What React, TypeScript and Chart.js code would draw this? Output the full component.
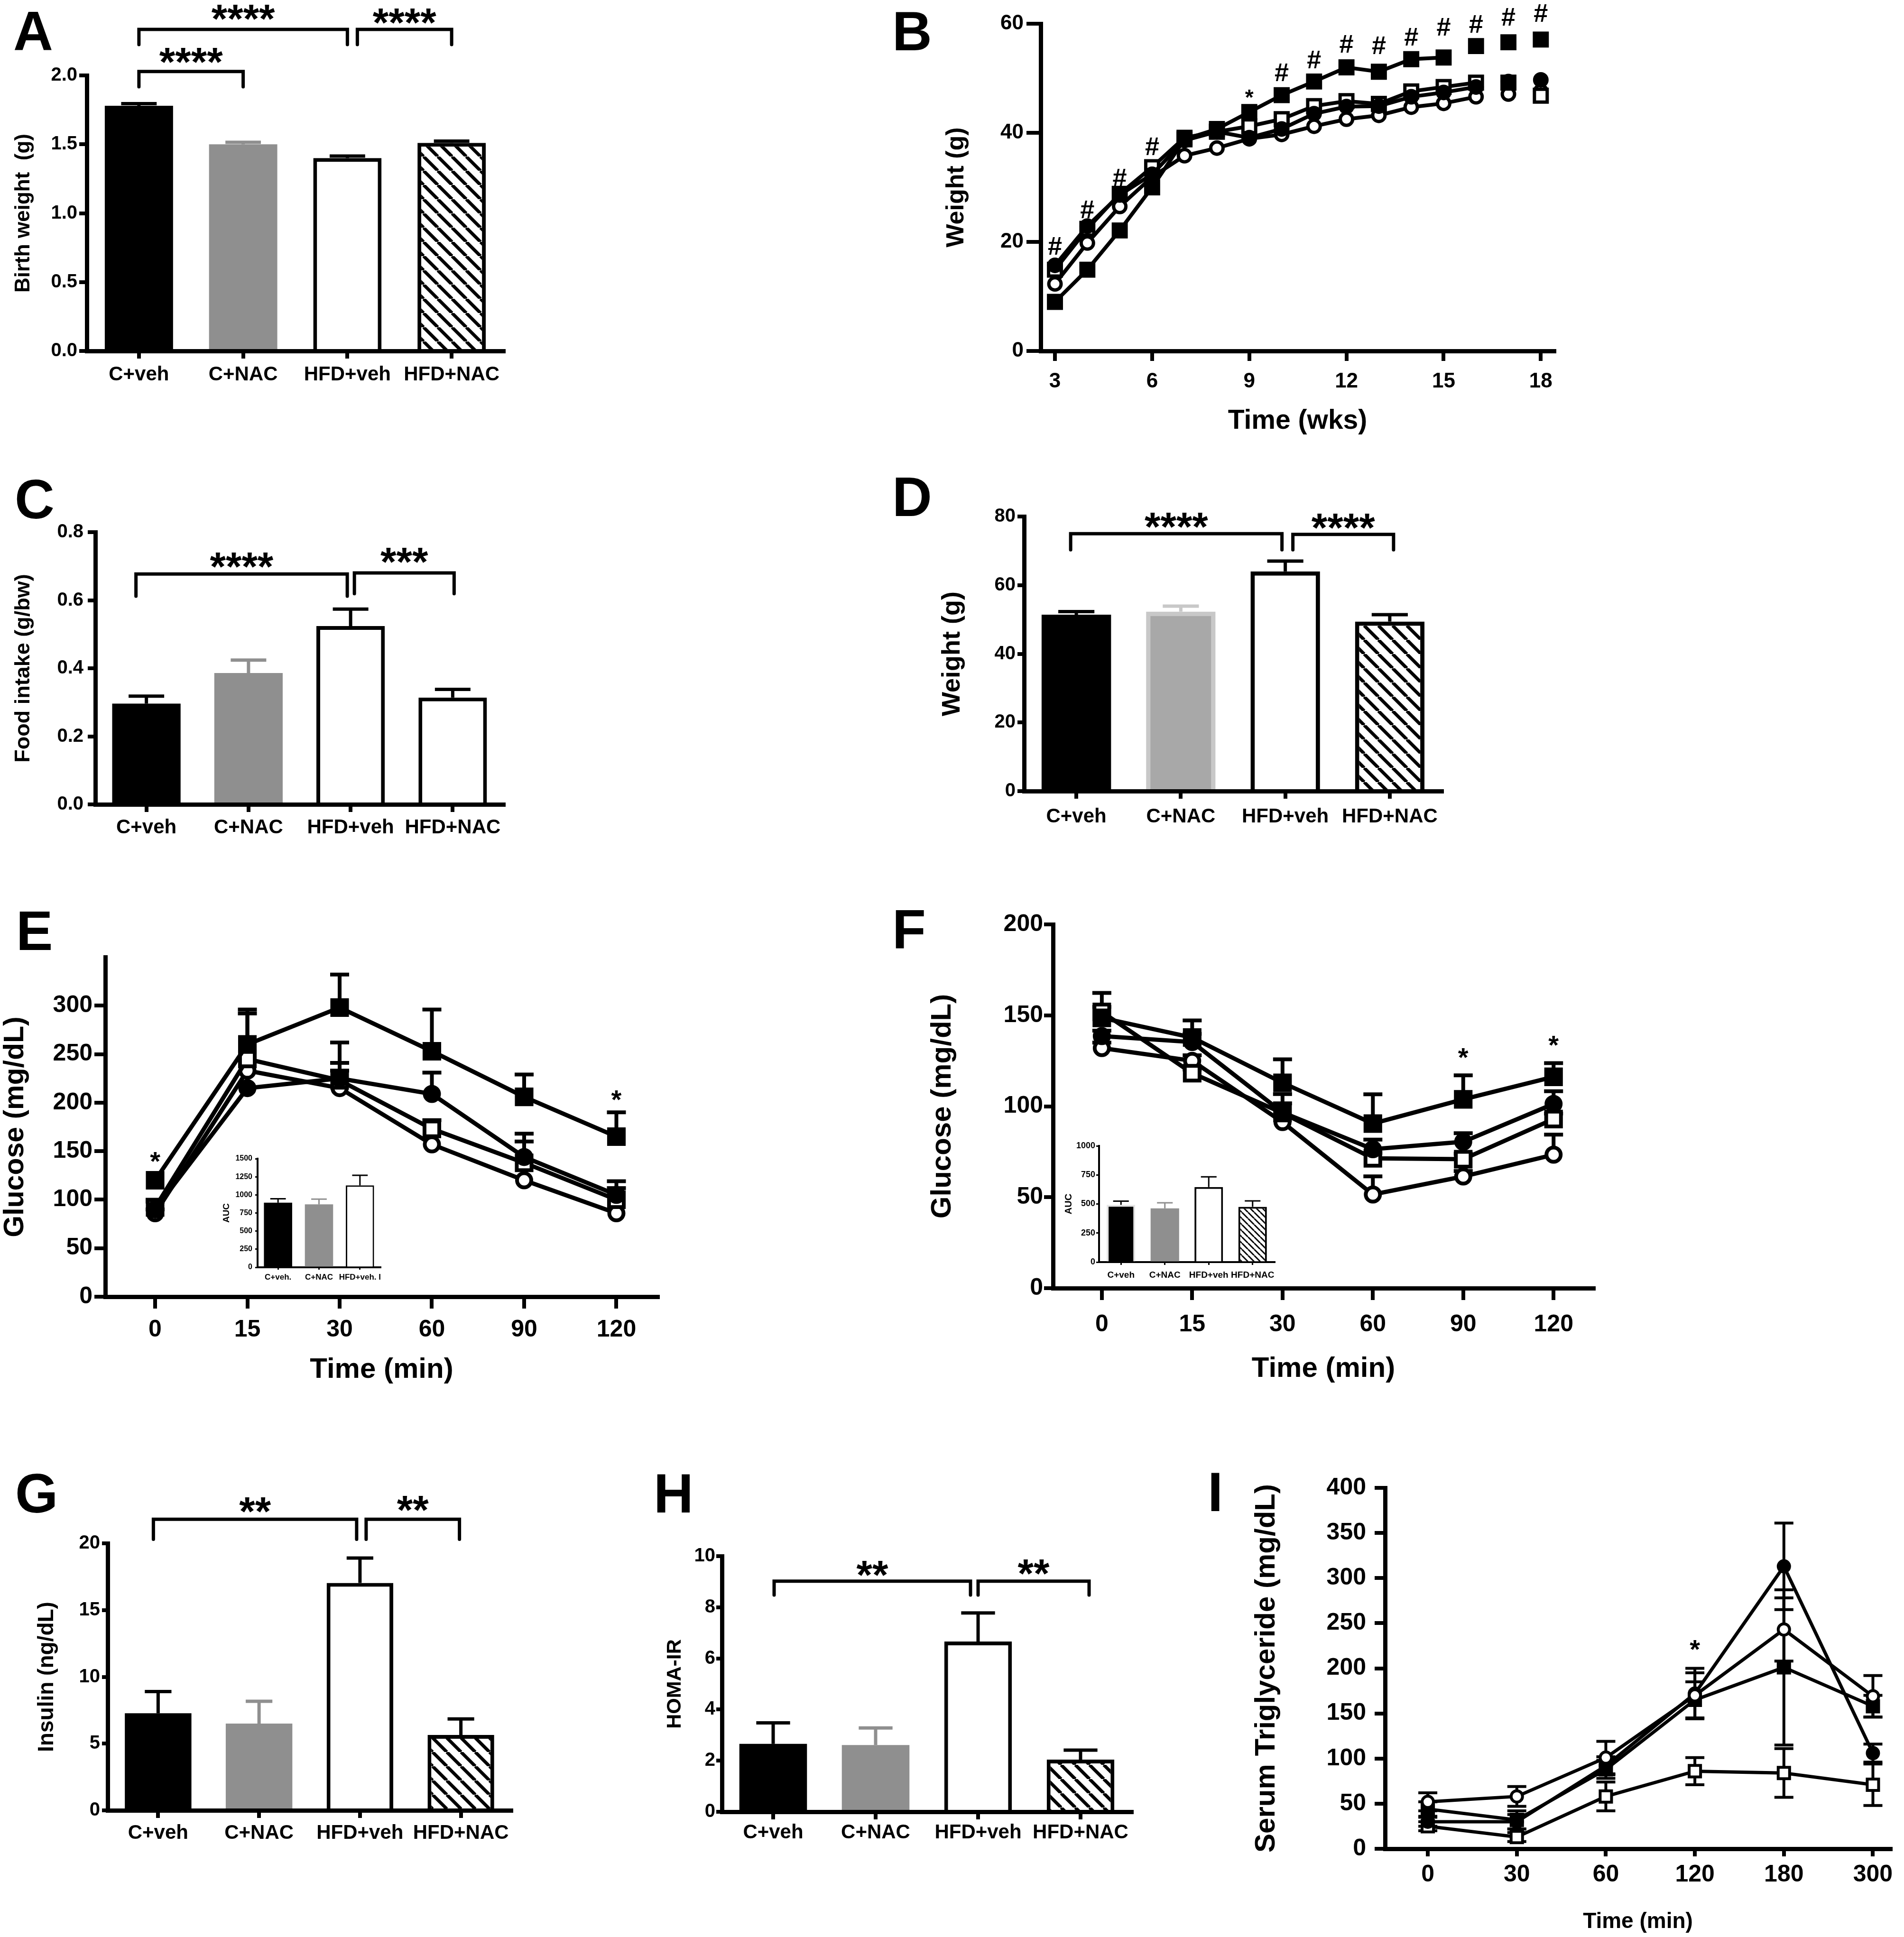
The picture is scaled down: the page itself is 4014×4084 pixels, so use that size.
import React, { useEffect, useRef } from 'react';
import { Chart, registerables } from 'chart.js';

Chart.register(...registerables);

const FONT = "'Liberation Sans', Arial, Helvetica, sans-serif";
Chart.defaults.font.family = FONT;
Chart.defaults.color = '#000';

// ---------------- data ----------------
const groups = ['C+veh', 'C+NAC', 'HFD+veh', 'HFD+NAC'];

// A: birth weight (g)
const birthWeight = [1.78, 1.5, 1.4, 1.51];
const birthWeightSem = [0.015, 0.015, 0.015, 0.013];
// C: food intake (g/bw)
const foodIntake = [0.296, 0.386, 0.524, 0.314];
const foodIntakeSem = [0.022, 0.038, 0.05, 0.024];
// D: weight (g)
const bodyWeight = [51.4, 52.3, 64.0, 49.4];
const bodyWeightSem = [0.9, 1.6, 3.0, 2.0];
// G: insulin (ng/dL)
const insulin = [7.27, 6.5, 17.03, 5.65];
const insulinSem = [1.63, 1.67, 1.87, 1.2];
// H: HOMA-IR
const homaIR = [2.66, 2.61, 6.66, 2.04];
const homaIRSem = [0.82, 0.67, 1.12, 0.37];

// B: weight over time (wks)
const weeks = [3, 4, 5, 6, 7, 8, 9, 10, 11, 12, 13, 14, 15, 16, 17, 18];
const growthCVeh = [15.7, 22.9, 28.6, 32.4, 38.6, 40.2, 39.1, 40.7, 43.5, 44.8, 44.9, 46.6, 47.4, 48.4, 49.4, 49.7];
const growthCNac = [12.3, 19.8, 26.5, 31.9, 35.8, 37.2, 38.9, 39.7, 41.2, 42.5, 43.2, 44.7, 45.4, 46.6, 47.1, 47.6];
const growthHfdVeh = [9.0, 14.9, 22.1, 30.0, 38.8, 40.7, 43.8, 46.9, 49.4, 52.0, 51.2, 53.5, 53.8, 55.9, 56.6, 57.1];
const growthHfdNac = [14.9, 22.4, 28.8, 33.7, 39.1, 40.2, 41.2, 42.5, 44.9, 45.8, 45.3, 47.6, 48.4, 49.2, 49.2, 46.8];
const growthHashWeeks = [3, 4, 5, 6, 10, 11, 12, 13, 14, 15, 16, 17, 18];
const growthHashY = [19.3, 26.0, 31.9, 37.6, 51.2, 53.5, 56.4, 56.1, 57.7, 59.5, 60.0, 61.3, 62.0];

// E: GTT glucose (mg/dL)
const gttTimes = ['0', '15', '30', '60', '90', '120'];
const gttCVeh = [90, 215, 225, 209, 144, 105];
const gttCVehSem = [10, 77, 37, 22, 24, 14];
const gttCNac = [86, 233, 215, 157, 120, 86];
const gttCNacSem = [4, 0, 26, 0, 0, 0];
const gttHfdVeh = [120, 260, 298, 253, 206, 165];
const gttHfdVehSem = [0, 36, 34, 43, 23, 25];
const gttHfdNac = [92, 245, 223, 173, 138, 100];
const gttHfdNacSem = [6, 0, 10, 9, 22, 12];
// E inset: AUC
const gttAucGroups = ['C+veh.', 'C+NAC', 'HFD+veh. I'];
const gttAuc = [892, 870, 1132];
const gttAucSem = [55, 71, 138];

// F: ITT glucose (mg/dL)
const ittTimes = ['0', '15', '30', '60', '90', '120'];
const ittCVeh = [138.6, 135.3, 96.6, 76.4, 80.5, 101.3];
const ittCVehSem = [3, 4.5, 5, 5.3, 4.7, 7];
const ittCNac = [132, 125, 91.3, 51.5, 61.4, 73.4];
const ittCNacSem = [3, 3, 3, 10, 3, 11];
const ittHfdVeh = [148.6, 137.8, 112.9, 90.5, 103.8, 116.2];
const ittHfdVehSem = [6, 9.4, 12.9, 16.1, 13.2, 7.5];
const ittHfdNac = [151.9, 118.2, 96.3, 71.4, 70.9, 93];
const ittHfdNacSem = [10.4, 2, 10.4, 3, 3, 3];
// F inset: AUC
const ittAuc = [493, 462, 646, 476];
const ittAucSem = [32, 48, 88, 51];

// I: serum triglyceride (mg/dL)
const tgTimes = ['0', '30', '60', '120', '180', '300'];
const tgCNac = [52, 58, 101, 170, 243, 169];
const tgCNacSem = [10, 11, 18, 25, 35, 23];
const tgHfdVeh = [44, 32, 88, 165, 201, 158];
const tgHfdVehSem = [8, 10, 10, 20, 86, 12];
const tgCVeh = [30, 30, 92, 172, 313, 106];
const tgCVehSem = [5, 8, 10, 28, 48, 10];
const tgHfdNac = [25, 13, 58, 86, 84, 71];
const tgHfdNacSem = [5, 5, 16, 15, 27, 23];

// ---------------- helpers ----------------
const GREY = '#8f8f8f';

function hatch(tile: number, lw: number) {
  const c = document.createElement('canvas');
  c.width = tile;
  c.height = tile;
  const g = c.getContext('2d')!;
  g.fillStyle = '#fff';
  g.fillRect(0, 0, tile, tile);
  g.strokeStyle = '#000';
  g.lineWidth = lw;
  g.beginPath();
  for (const o of [-tile, 0, tile]) {
    g.moveTo(o, 0);
    g.lineTo(o + tile, tile);
  }
  g.stroke();
  return g.createPattern(c, 'repeat');
}

function drawText(ctx: any, text: string, x: number, yc: number, size: number, k: number) {
  ctx.font = `bold ${size}px ${FONT}`;
  ctx.textAlign = 'center';
  ctx.textBaseline = 'alphabetic';
  ctx.fillStyle = '#000';
  ctx.fillText(text, x, yc + k * size);
}

function drawErr(chart: any, o: any) {
  const ctx = chart.ctx;
  const ys = chart.scales.y;
  (o.errs || []).forEach((arr: number[], di: number) => {
    if (!arr) return;
    const meta = chart.getDatasetMeta(di);
    const ds = chart.data.datasets[di];
    meta.data.forEach((el: any, j: number) => {
      const e = arr[j];
      if (!e) return;
      const raw = ds.data[j];
      const v = typeof raw === 'number' ? raw : raw.y;
      const x = el.x;
      const y0 = o.errMode === 'bar' ? el.y : ys.getPixelForValue(v);
      const yTop = ys.getPixelForValue(v + e);
      const yBot = o.both ? ys.getPixelForValue(v - e) : y0;
      const cw = o.errMode === 'bar' ? el.width * o.capFrac : o.capW;
      ctx.save();
      ctx.strokeStyle = (o.errColors && o.errColors[di] && o.errColors[di][j]) || '#000';
      ctx.lineWidth = o.errLW;
      ctx.lineCap = 'butt';
      ctx.beginPath();
      ctx.moveTo(x, yBot);
      ctx.lineTo(x, yTop);
      ctx.moveTo(x - cw / 2, yTop);
      ctx.lineTo(x + cw / 2, yTop);
      if (o.both) {
        ctx.moveTo(x - cw / 2, yBot);
        ctx.lineTo(x + cw / 2, yBot);
      }
      ctx.stroke();
      ctx.restore();
    });
  });
}

function drawAnn(chart: any, o: any) {
  const ctx = chart.ctx;
  const xs = chart.scales.x;
  const ys = chart.scales.y;
  ctx.save();
  (o.brackets || []).forEach((b: any) => {
    const x1 = xs.getPixelForValue(b.a) + (b.na || 0);
    const x2 = xs.getPixelForValue(b.b) + (b.nb || 0);
    const y = ys.getPixelForValue(b.y);
    const yd = ys.getPixelForValue(b.drop);
    ctx.strokeStyle = '#000';
    ctx.lineWidth = o.bLW || 7;
    ctx.lineJoin = 'miter';
    ctx.lineCap = 'round';
    ctx.beginPath();
    ctx.moveTo(x1, yd);
    ctx.lineTo(x1, y);
    ctx.lineTo(x2, y);
    ctx.lineTo(x2, yd);
    ctx.stroke();
    drawText(ctx, b.text, (x1 + x2) / 2, ys.getPixelForValue(b.ty), o.bSize || 86, 0.56);
  });
  (o.marks || []).forEach((m: any) => {
    drawText(ctx, m.text, xs.getPixelForValue(m.x), ys.getPixelForValue(m.y), m.size, m.k);
  });
  ctx.restore();
}

const decoPlugin = {
  id: 'deco',
  beforeDatasetsDraw(chart: any, _a: any, o: any) {
    if (o && o.errMode === 'line') drawErr(chart, o);
  },
  afterDatasetsDraw(chart: any, _a: any, o: any) {
    if (o && o.errMode === 'bar') drawErr(chart, o);
  },
  afterDraw(chart: any, _a: any, o: any) {
    if (o) drawAnn(chart, o);
  },
};
Chart.register(decoPlugin as any);

interface Geo {
  L: number; T: number; R: number; B: number;
  padTop: number; padRight: number;
  yTitleCx: number; yTitleSize: number;
  xTitleCy?: number; xTitleSize?: number; xBlock?: number;
}

function frame(g: Geo) {
  const left = Math.floor(g.yTitleCx - 0.6 * g.yTitleSize);
  const top = Math.floor(g.T - g.padTop);
  const Wy = g.L - left;
  const Hx = g.xTitleCy != null ? g.xTitleCy + 0.6 * (g.xTitleSize as number) - g.B : (g.xBlock as number);
  const width = Math.ceil(g.R + g.padRight - left);
  const height = Math.ceil(g.B + Hx + 4 - top);
  const pad = { left: 0, top: g.T - top, right: width - (g.R - left), bottom: height - (g.B - top) - Hx };
  return { left, top, width, height, Wy, Hx, pad };
}

function axisCommon(p: any) {
  return {
    grid: {
      display: true, drawOnChartArea: false, drawTicks: true, offset: false,
      tickLength: p.tickLen, tickWidth: p.tickW, tickColor: '#000', lineWidth: p.tickW, color: '#000',
    },
    border: { display: true, color: '#000', width: p.bw },
    title: {
      display: !!p.title, text: p.title || '',
      font: { size: p.titleSize || 10, weight: 'bold', family: FONT }, color: '#000', padding: 0,
    },
  };
}

function yAxis(p: any) {
  return {
    type: 'linear', position: 'left', min: p.min, max: p.max,
    afterBuildTicks: (s: any) => {
      const vals: number[] = [];
      for (let v = p.min; v <= (p.tickMax ?? p.max) + 1e-9; v += p.step) vals.push(+v.toFixed(6));
      s.ticks = vals.map((value) => ({ value }));
    },
    ticks: {
      font: { size: p.tickSize, weight: 'bold', family: FONT }, color: '#000', padding: p.tickPad,
      callback: p.fmt, autoSkip: false,
    },
    ...axisCommon(p),
    afterFit: (s: any) => {
      s.width = p.W;
      s.paddingTop = 0;
      s.paddingBottom = 0;
    },
  };
}

function xCat(p: any) {
  return {
    type: 'category', position: 'bottom', offset: true,
    ticks: {
      font: { size: p.tickSize, weight: 'bold', family: FONT }, color: '#000', padding: p.tickPad,
      autoSkip: false, maxRotation: 0, minRotation: 0,
      callback: (v: number) => p.labels[v],
    },
    ...axisCommon(p),
    afterFit: (s: any) => {
      s.height = p.H;
      s.paddingLeft = 0;
      s.paddingRight = 0;
    },
  };
}

function xLin(p: any) {
  return {
    type: 'linear', position: 'bottom', min: p.min, max: p.max,
    afterBuildTicks: (s: any) => {
      s.ticks = p.tickVals.map((value: number) => ({ value }));
    },
    ticks: {
      font: { size: p.tickSize, weight: 'bold', family: FONT }, color: '#000', padding: p.tickPad,
      autoSkip: false, maxRotation: 0, minRotation: 0, callback: p.fmt,
    },
    ...axisCommon(p),
    afterFit: (s: any) => {
      s.height = p.H;
      s.paddingLeft = 0;
      s.paddingRight = 0;
    },
  };
}

function barStyles(kinds: string[], pat: any, bwHollow: number) {
  const bg: any[] = [];
  const bc: string[] = [];
  const bw: number[] = [];
  const ec: string[] = [];
  kinds.forEach((k) => {
    if (k === 'black') { bg.push('#000'); bc.push('#000'); bw.push(0); ec.push('#000'); }
    else if (k === 'blackRim') { bg.push('#000'); bc.push('#e4e4e4'); bw.push(bwHollow); ec.push('#000'); }
    else if (k === 'grey') { bg.push(GREY); bc.push(GREY); bw.push(0); ec.push(GREY); }
    else if (k === 'lightgrey') { bg.push('#a8a8a8'); bc.push('#c8c8c8'); bw.push(bwHollow); ec.push('#c8c8c8'); }
    else if (k === 'white') { bg.push('#fff'); bc.push('#000'); bw.push(bwHollow); ec.push('#000'); }
    else { bg.push(pat); bc.push('#000'); bw.push(bwHollow); ec.push('#000'); }
  });
  return { bg, bc, bw, ec };
}

const baseOpts = (pad: any) => ({
  responsive: false, animation: false, devicePixelRatio: 1, events: [],
  layout: { padding: pad },
});

function barSpec(g: Geo, o: any) {
  const f = frame(g);
  return {
    ...f,
    make: () => {
      const pat = hatch(o.hatchTile || 30, o.hatchLW || 7);
      const st = barStyles(o.kinds, pat, o.hollowBW);
      return {
        type: 'bar',
        data: {
          labels: o.labels,
          datasets: [{
            data: o.values, backgroundColor: st.bg, borderColor: st.bc, borderWidth: st.bw,
            borderSkipped: 'start', barPercentage: o.barPct, categoryPercentage: 1,
          }],
        },
        options: {
          ...baseOpts(f.pad),
          plugins: {
            legend: { display: false }, tooltip: { enabled: false },
            deco: {
              errMode: 'bar', errs: [o.errs], errColors: [st.ec], capFrac: o.capFrac, errLW: o.errLW,
              brackets: o.brackets || [], bLW: o.bLW, bSize: o.bSize, marks: [],
            },
          },
          scales: {
            x: xCat({ ...o.x, labels: o.labels, H: f.Hx }),
            y: yAxis({ ...o.y, W: f.Wy }),
          },
        },
      };
    },
  };
}

function series(xs: number[], ys: number[], kind: string, st: any, lastLinked: number) {
  const filled = kind[0] === 'f';
  const circle = kind[1] === 'c';
  return {
    data: xs.map((x, i) => ({ x, y: ys[i] })),
    borderColor: '#000', borderWidth: st.lw,
    pointStyle: circle ? 'circle' : 'rect',
    pointRadius: circle ? st.r : st.rr,
    pointBackgroundColor: filled ? '#000' : '#fff',
    pointBorderColor: '#000', pointBorderWidth: st.pbw,
    fill: false, tension: 0, clip: false,
    segment: { borderColor: (c: any) => (c.p1DataIndex > lastLinked ? 'rgba(0,0,0,0)' : '#000') },
  };
}

function lineSpec(g: Geo, o: any) {
  const f = frame(g);
  return {
    ...f,
    make: () => ({
      type: 'line',
      data: {
        datasets: o.series.map((s: any) => series(o.xs, s.ys, s.kind, o.st, s.last ?? 99)),
      },
      options: {
        ...baseOpts(f.pad),
        plugins: {
          legend: { display: false }, tooltip: { enabled: false },
          deco: {
            errMode: 'line', both: !!o.both, errs: o.series.map((s: any) => s.errs || null),
            capW: o.capW, errLW: o.errLW, brackets: [], marks: o.marks || [],
          },
        },
        scales: {
          x: xLin({ ...o.x, H: f.Hx }),
          y: yAxis({ ...o.y, W: f.Wy }),
        },
      },
    }),
  };
}

const idx6 = [0, 1, 2, 3, 4, 5];
const fmt1 = (v: number) => v.toFixed(1);
const fmt0 = (v: number) => String(Math.round(v));
const AX = { tickW: 8, bw: 9 };

// ---------------- panels ----------------
const panelA = barSpec(
  { L: 183, T: 159, R: 1062, B: 740, padTop: 159, padRight: 16, yTitleCx: 50, yTitleSize: 44, xBlock: 86 },
  {
    labels: groups, values: birthWeight, errs: birthWeightSem, kinds: ['black', 'grey', 'white', 'hatch'],
    hollowBW: 8, barPct: 0.655, capFrac: 0.52, errLW: 7, bLW: 7, bSize: 86,
    x: { ...AX, tickSize: 42, tickLen: 16, tickPad: 9 },
    y: { ...AX, min: 0, max: 2, step: 0.5, fmt: fmt1, tickSize: 40, tickLen: 16, tickPad: 4, title: 'Birth weight  (g)', titleSize: 44 },
    brackets: [
      { a: 0, b: 1, y: 2.028, drop: 1.917, ty: 2.162, text: '****' },
      { a: 0, b: 2, y: 2.334, drop: 2.224, ty: 2.475, text: '****' },
      { a: 2, b: 3, y: 2.334, drop: 2.224, ty: 2.448, text: '****', na: 21 },
    ],
  }
);

const panelC = barSpec(
  { L: 201, T: 1122, R: 1062, B: 1696, padTop: 40, padRight: 16, yTitleCx: 50, yTitleSize: 45, xBlock: 86 },
  {
    labels: groups, values: foodIntake, errs: foodIntakeSem, kinds: ['black', 'grey', 'white', 'white'],
    hollowBW: 8, barPct: 0.67, capFrac: 0.52, errLW: 7, bLW: 7, bSize: 86,
    x: { ...AX, tickSize: 42, tickLen: 16, tickPad: 8 },
    y: { ...AX, min: 0, max: 0.8, step: 0.2, fmt: fmt1, tickSize: 40, tickLen: 16, tickPad: 9, title: 'Food intake (g/bw)', titleSize: 45 },
    brackets: [
      { a: 0, b: 2, y: 0.677, drop: 0.612, ty: 0.725, text: '****', na: -22, nb: -7 },
      { a: 2, b: 3, y: 0.68, drop: 0.619, ty: 0.739, text: '***', na: 8, nb: 3 },
    ],
  }
);

const panelD = barSpec(
  { L: 2159, T: 1089, R: 3040, B: 1668, padTop: 40, padRight: 16, yTitleCx: 2009, yTitleSize: 54, xBlock: 90 },
  {
    labels: groups, values: bodyWeight, errs: bodyWeightSem, kinds: ['black', 'lightgrey', 'white', 'hatch'],
    hollowBW: 9, barPct: 0.665, capFrac: 0.52, errLW: 7, bLW: 7, bSize: 86,
    x: { ...AX, tickSize: 42, tickLen: 16, tickPad: 13 },
    y: { ...AX, min: 0, max: 80, step: 20, fmt: fmt0, tickSize: 40, tickLen: 14, tickPad: 4, title: 'Weight (g)', titleSize: 54 },
    brackets: [
      { a: 0, b: 2, y: 75.0, drop: 70.3, ty: 79.6, text: '****', na: -12, nb: -7 },
      { a: 2, b: 3, y: 74.8, drop: 70.3, ty: 79.4, text: '****', na: 16, nb: 8 },
    ],
  }
);

const panelG = barSpec(
  { L: 227, T: 3254, R: 1078, B: 3817, padTop: 130, padRight: 16, yTitleCx: 100, yTitleSize: 46, xBlock: 84 },
  {
    labels: groups, values: insulin, errs: insulinSem, kinds: ['black', 'grey', 'white', 'hatch'],
    hollowBW: 8, barPct: 0.66, capFrac: 0.4, errLW: 7, bLW: 7, bSize: 86,
    x: { ...AX, tickSize: 42, tickLen: 16, tickPad: 7 },
    y: { ...AX, min: 0, max: 20, step: 5, fmt: fmt0, tickSize: 40, tickLen: 12, tickPad: 4, title: 'Insulin (ng/dL)', titleSize: 46 },
    brackets: [
      { a: 0, b: 2, y: 21.8, drop: 20.3, ty: 23.06, text: '**', na: -10, nb: -7 },
      { a: 2, b: 3, y: 21.8, drop: 20.3, ty: 23.15, text: '**', na: 13, nb: -3 },
    ],
  }
);

const panelH = barSpec(
  { L: 1522, T: 3281, R: 2386, B: 3820, padTop: 40, padRight: 16, yTitleCx: 1423, yTitleSize: 43, xBlock: 82 },
  {
    labels: groups, values: homaIR, errs: homaIRSem, kinds: ['black', 'grey', 'white', 'hatch'],
    hollowBW: 8, barPct: 0.66, capFrac: 0.5, errLW: 7, bLW: 7, bSize: 86,
    x: { ...AX, tickSize: 42, tickLen: 16, tickPad: 3 },
    y: { ...AX, min: 0, max: 10, step: 2, fmt: fmt0, tickSize: 40, tickLen: 12, tickPad: 2, title: 'HOMA-IR', titleSize: 43 },
    brackets: [
      { a: 0, b: 2, y: 9.02, drop: 8.48, ty: 9.62, text: '**', na: 2, nb: -16 },
      { a: 2, b: 3, y: 9.02, drop: 8.48, ty: 9.67, text: '**', na: 0, nb: 18 },
    ],
  }
);

const insetE = barSpec(
  { L: 543, T: 2443, R: 802, B: 2672, padTop: 16, padRight: 16, yTitleCx: 478, yTitleSize: 19, xBlock: 38 },
  {
    labels: gttAucGroups, values: gttAuc, errs: gttAucSem, kinds: ['black', 'grey', 'white'],
    hollowBW: 3, barPct: 0.69, capFrac: 0.55, errLW: 3, bLW: 3, bSize: 20,
    x: { tickW: 3, bw: 4, tickSize: 17, tickLen: 5, tickPad: 6 },
    y: { tickW: 3, bw: 4, min: 0, max: 1500, step: 250, fmt: fmt0, tickSize: 16, tickLen: 5, tickPad: 6, title: 'AUC', titleSize: 19 },
  }
);

const insetF = barSpec(
  { L: 2317, T: 2416, R: 2687, B: 2661, padTop: 16, padRight: 10, yTitleCx: 2253, yTitleSize: 20, xBlock: 45 },
  {
    labels: groups, values: ittAuc, errs: ittAucSem, kinds: ['blackRim', 'grey', 'white', 'hatch'],
    hollowBW: 4, barPct: 0.65, capFrac: 0.55, errLW: 3, bLW: 3, bSize: 20, hatchTile: 13, hatchLW: 3,
    x: { tickW: 3, bw: 4, tickSize: 19, tickLen: 6, tickPad: 10 },
    y: { tickW: 3, bw: 4, min: 0, max: 1000, step: 250, fmt: fmt0, tickSize: 18, tickLen: 6, tickPad: 2, title: 'AUC', titleSize: 20 },
  }
);

const panelB = lineSpec(
  { L: 2194, T: 50, R: 3277, B: 740, padTop: 50, padRight: 30, yTitleCx: 2016.5, yTitleSize: 52, xTitleCy: 888, xTitleSize: 57 },
  {
    xs: weeks,
    st: { r: 13, rr: 19, pbw: 7, lw: 8 },
    series: [
      { ys: growthCVeh, kind: 'fc', last: 13 },
      { ys: growthHfdVeh, kind: 'fs', last: 12 },
      { ys: growthHfdNac, kind: 'os', last: 13 },
      { ys: growthCNac, kind: 'oc', last: 13 },
    ],
    capW: 30, errLW: 6,
    marks: [
      ...growthHashWeeks.map((w, i) => ({ x: w, y: growthHashY[i], text: '#', size: 54, k: 0.36 })),
      { x: 9, y: 47.4, text: '*', size: 46, k: 0.56 },
    ],
    x: { ...AX, min: 2.56, max: 18.42, tickVals: [3, 6, 9, 12, 15, 18], fmt: fmt0, tickSize: 44, tickLen: 21, tickPad: 17, title: 'Time (wks)', titleSize: 57 },
    y: { ...AX, min: 0, max: 60, step: 20, fmt: fmt0, tickSize: 44, tickLen: 30, tickPad: 6, title: 'Weight (g)', titleSize: 52 },
  }
);

const panelE = lineSpec(
  { L: 222, T: 2018, R: 1397, B: 2734, padTop: 30, padRight: 20, yTitleCx: 33, yTitleSize: 59, xTitleCy: 2888, xTitleSize: 60 },
  {
    xs: idx6,
    st: { r: 15, rr: 22, pbw: 8, lw: 9 },
    series: [
      { ys: gttHfdVeh, errs: gttHfdVehSem, kind: 'fs' },
      { ys: gttCVeh, errs: gttCVehSem, kind: 'fc' },
      { ys: gttHfdNac, errs: gttHfdNacSem, kind: 'os' },
      { ys: gttCNac, errs: gttCNacSem, kind: 'oc' },
    ],
    capW: 40, errLW: 8,
    marks: [
      { x: 0, y: 145.8, text: '*', size: 56, k: 0.56 },
      { x: 5, y: 209.6, text: '*', size: 56, k: 0.56 },
    ],
    x: { ...AX, min: -0.54, max: 5.45, tickVals: idx6, fmt: (v: number) => gttTimes[v], tickSize: 50, tickLen: 25, tickPad: 15, title: 'Time (min)', titleSize: 60 },
    y: { ...AX, min: 0, max: 350, tickMax: 300, step: 50, fmt: fmt0, tickSize: 50, tickLen: 23, tickPad: 4, title: 'Glucose (mg/dL)', titleSize: 59 },
  }
);

const panelF = lineSpec(
  { L: 2220, T: 1949, R: 3370, B: 2716, padTop: 30, padRight: 20, yTitleCx: 1987, yTitleSize: 60, xTitleCy: 2886, xTitleSize: 60 },
  {
    xs: idx6,
    st: { r: 15, rr: 22, pbw: 8, lw: 9 },
    series: [
      { ys: ittHfdVeh, errs: ittHfdVehSem, kind: 'fs' },
      { ys: ittCVeh, errs: ittCVehSem, kind: 'fc' },
      { ys: ittHfdNac, errs: ittHfdNacSem, kind: 'os' },
      { ys: ittCNac, errs: ittCNacSem, kind: 'oc' },
    ],
    capW: 40, errLW: 8,
    marks: [
      { x: 4, y: 130.3, text: '*', size: 56, k: 0.56 },
      { x: 5, y: 137, text: '*', size: 56, k: 0.56 },
    ],
    x: { ...AX, min: -0.54, max: 5.445, tickVals: idx6, fmt: (v: number) => ittTimes[v], tickSize: 50, tickLen: 25, tickPad: 22, title: 'Time (min)', titleSize: 60 },
    y: { ...AX, min: 0, max: 200, step: 50, fmt: fmt0, tickSize: 50, tickLen: 19, tickPad: 2, title: 'Glucose (mg/dL)', titleSize: 60 },
  }
);

const panelI = lineSpec(
  { L: 2920, T: 3137, R: 4003, B: 3898, padTop: 30, padRight: 6, yTitleCx: 2670, yTitleSize: 60, xTitleCy: 4052, xTitleSize: 46 },
  {
    xs: idx6,
    st: { r: 12, rr: 17, pbw: 6, lw: 7 },
    both: true,
    series: [
      { ys: tgCNac, errs: tgCNacSem, kind: 'oc' },
      { ys: tgHfdVeh, errs: tgHfdVehSem, kind: 'fs' },
      { ys: tgCVeh, errs: tgCVehSem, kind: 'fc' },
      { ys: tgHfdNac, errs: tgHfdNacSem, kind: 'os' },
    ],
    capW: 40, errLW: 6,
    marks: [{ x: 3, y: 228, text: '*', size: 56, k: 0.56 }],
    x: { ...AX, min: -0.48, max: 5.2, tickVals: idx6, fmt: (v: number) => tgTimes[v], tickSize: 50, tickLen: 16, tickPad: 9, title: 'Time (min)', titleSize: 46 },
    y: { ...AX, min: 0, max: 400, step: 50, fmt: fmt0, tickSize: 50, tickLen: 22, tickPad: 18, title: 'Serum Triglyceride (mg/dL)', titleSize: 60 },
  }
);

const panels = [panelA, panelB, panelC, panelD, panelE, insetE, panelF, insetF, panelG, panelH, panelI];

const letters = [
  { t: 'A', x: 28, y: 23 },
  { t: 'B', x: 1881, y: 23 },
  { t: 'C', x: 31, y: 1010 },
  { t: 'D', x: 1881, y: 1005 },
  { t: 'E', x: 34, y: 1920 },
  { t: 'F', x: 1881, y: 1917 },
  { t: 'G', x: 32, y: 3106 },
  { t: 'H', x: 1378, y: 3106 },
  { t: 'I', x: 2546, y: 3103 },
];

function ChartBox({ spec }: { spec: any }) {
  const ref = useRef<HTMLCanvasElement>(null);
  useEffect(() => {
    const chart = new Chart(ref.current as HTMLCanvasElement, spec.make());
    return () => chart.destroy();
  }, []);
  return (
    <canvas
      ref={ref}
      width={spec.width}
      height={spec.height}
      style={{ position: 'absolute', left: spec.left, top: spec.top, width: spec.width, height: spec.height }}
    />
  );
}

export default function App() {
  useEffect(() => {
    document.body.style.margin = '0';
    document.body.style.background = '#fff';
  }, []);
  const LS = 116;
  return (
    <div style={{ position: 'relative', width: 4014, height: 4084, background: '#fff', overflow: 'hidden' }}>
      {panels.map((p, i) => (
        <ChartBox key={i} spec={p} />
      ))}
      {letters.map((l) => (
        <div
          key={l.t}
          style={{
            position: 'absolute', left: l.x, top: l.y - 0.13 * LS, fontFamily: FONT, fontWeight: 'bold',
            fontSize: LS, lineHeight: 1, color: '#000',
          }}
        >
          {l.t}
        </div>
      ))}
    </div>
  );
}
